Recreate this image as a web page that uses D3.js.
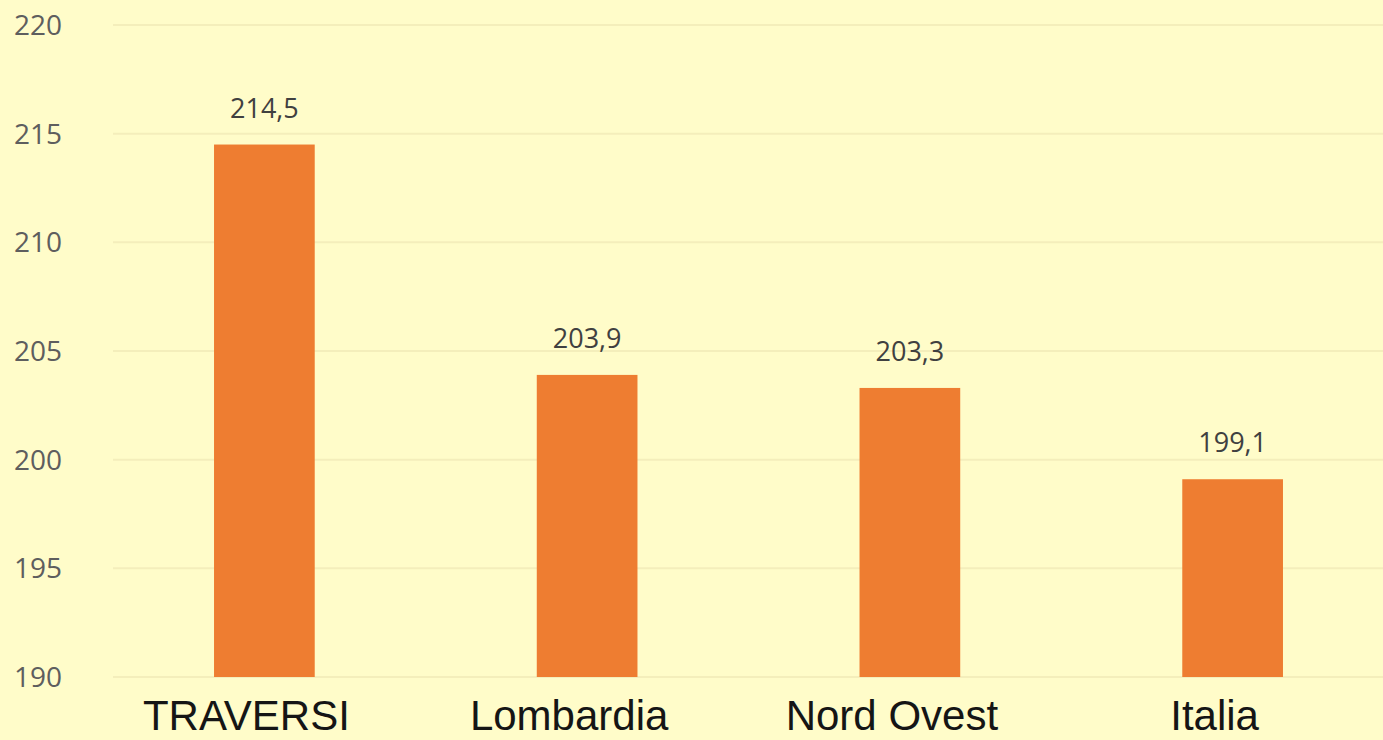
<html lang="it">
<head>
  <meta charset="UTF-8"/>
  <title>Bar chart</title>
  <script src="https://d3js.org/d3.v7.min.js"></script>
  <style>
    body { margin: 0; background: #fffcc9; overflow: hidden; }
    svg { display: block; }
    .tick-label { font-family: 'Open Sans', sans-serif; font-size: 28px; fill: #5e5e5e; }
    .value { font-family: 'Open Sans', sans-serif; font-size: 27px; fill: #404040; }
    .cat { font-family: 'Liberation Sans', Arial, sans-serif; font-size: 42px; fill: #151515; }
  </style>
</head>
<body>
<svg></svg>
<script>
  const categories = ['TRAVERSI', 'Lombardia', 'Nord Ovest', 'Italia'];
  const values = [214.5, 203.9, 203.3, 199.1];
  const valueLabels = ['214,5', '203,9', '203,3', '199,1'];
  const yTicks = [190, 195, 200, 205, 210, 215, 220];

  const W = 1383, H = 740;
  const svg = d3.select('svg').attr('width', W).attr('height', H);

  svg.append('rect')
    .attr('width', W).attr('height', H)
    .attr('fill', '#fffcc9');

  const xScale = d3.scaleBand()
    .domain(categories)
    .range([103, 1394])
    .paddingInner(0.688)
    .paddingOuter(0.344);

  const yScale = d3.scaleLinear()
    .domain([190, 220])
    .range([677, 25]);

  // grid lines
  svg.append('g')
    .selectAll('line')
    .data(yTicks)
    .join('line')
    .attr('x1', 113)
    .attr('x2', W)
    .attr('y1', (d) => yScale(d))
    .attr('y2', (d) => yScale(d))
    .attr('stroke', '#f4eebb')
    .attr('stroke-width', 2);

  // y labels
  svg.append('g')
    .selectAll('text')
    .data(yTicks)
    .join('text')
    .attr('class', 'tick-label')
    .attr('x', 14)
    .attr('y', (d) => yScale(d))
    .attr('dy', '0.36em')
    .text((d) => d);

  const groups = svg.append('g')
    .selectAll('g')
    .data(categories)
    .join('g');

  groups.append('rect')
    .attr('x', (d) => xScale(d))
    .attr('y', (d, i) => yScale(values[i]))
    .attr('width', xScale.bandwidth())
    .attr('height', (d, i) => yScale(190) - yScale(values[i]))
    .attr('fill', '#ee7d31');

  groups.append('text')
    .attr('class', 'value')
    .attr('x', (d) => xScale(d) + xScale.bandwidth() / 2)
    .attr('y', (d, i) => yScale(values[i]) - 27)
    .attr('text-anchor', 'middle')
    .text((d, i) => valueLabels[i]);

  groups.append('text')
    .attr('class', 'cat')
    .attr('x', (d) => xScale(d) + xScale.bandwidth() / 2 - 18)
    .attr('y', 730)
    .attr('text-anchor', 'middle')
    .text((d) => d);
</script>
</body>
</html>
